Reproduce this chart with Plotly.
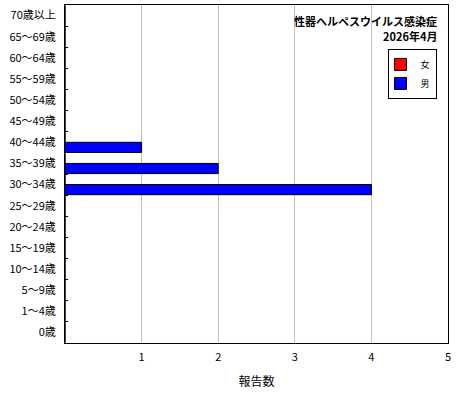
import plotly.graph_objects as go

# ── Data ──
age_groups = ["0歳", "1～4歳", "5～9歳", "10～14歳", "15～19歳", "20～24歳", "25～29歳",
              "30～34歳", "35～39歳", "40～44歳", "45～49歳", "50～54歳", "55～59歳",
              "60～64歳", "65～69歳", "70歳以上"]
female = [0, 0, 0, 0, 0, 0, 0, 0, 0, 0, 0, 0, 0, 0, 0, 0]
male = [0, 0, 0, 0, 0, 0, 0, 4, 2, 1, 0, 0, 0, 0, 0, 0]
x_ticks = [1, 2, 3, 4, 5]

TITLE = "性器ヘルペスウイルス感染症"
PERIOD = "2026年4月"

FONT = dict(family="Noto Sans CJK JP, sans-serif", size=11, color="#000000")
BORDER = dict(color="#000000", width=1)

fig = go.Figure()

# male first so it sits in the lower slot of each band
fig.add_trace(go.Bar(
    y=age_groups, x=male, name="男", orientation="h",
    marker=dict(color="#0000FF", line=BORDER),
))
fig.add_trace(go.Bar(
    y=age_groups, x=female, name="女", orientation="h",
    marker=dict(color="#FF0000", line=BORDER),
))

fig.add_annotation(text=TITLE, x=1, y=0.953, xref="paper", yref="paper",
                   xanchor="right", yanchor="middle", xshift=-9, showarrow=False,
                   font=dict(family=FONT["family"], size=11, color="#000000", weight="bold"))
fig.add_annotation(text=PERIOD, x=1, y=0.908, xref="paper", yref="paper",
                   xanchor="right", yanchor="middle", xshift=-9, showarrow=False,
                   font=dict(family=FONT["family"], size=11, color="#000000", weight="bold"))

fig.update_layout(
    width=460, height=400,
    paper_bgcolor="#FFFFFF", plot_bgcolor="#FFFFFF",
    font=FONT,
    margin=dict(l=65, r=12, t=5, b=57, autoexpand=False),
    barmode="group", bargap=0.04, bargroupgap=0,
    legend=dict(x=0.97, y=0.87, xanchor="right", yanchor="top",
                traceorder="reversed", bordercolor="#000000", borderwidth=1,
                bgcolor="#FFFFFF", font=dict(size=9), itemwidth=30,
                tracegroupgap=0, indentation=-8),
    xaxis=dict(range=[0, 5], tickvals=x_ticks, showgrid=True, gridcolor="#C0C0C0",
               gridwidth=1, zeroline=False, showline=True, linecolor="#000000",
               linewidth=1, mirror=True, ticks="", ticklabelstandoff=4,
               automargin=False, ticklabeloverflow="allow",
               title=dict(text="報告数", standoff=14, font=dict(size=12))),
    yaxis=dict(categoryorder="array", categoryarray=age_groups, showgrid=False,
               zeroline=False, showline=True, linecolor="#000000", linewidth=1,
               mirror=True, ticks="inside", ticklen=3, tickcolor="#000000",
               tickson="boundaries", ticklabelstandoff=6, automargin=False,
               ticklabeloverflow="allow"),
)

# page body has a default 8px margin; drop it so the figure sits at the window corner
fig.write_html("out.html", config={"displayModeBar": False},
               post_script="document.body.style.margin='0';")
